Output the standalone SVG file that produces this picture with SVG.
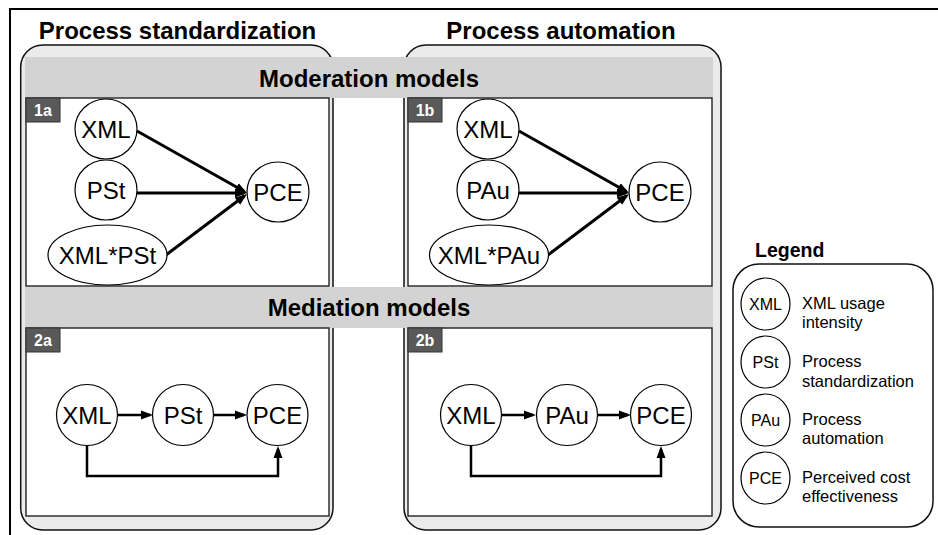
<svg xmlns="http://www.w3.org/2000/svg" width="938" height="535" viewBox="0 0 938 535">
<defs>
<style>
.frame{fill:none;stroke:#000;stroke-width:2}
.panel{fill:#ebebeb;stroke:#111;stroke-width:1.5}
.band{fill:#d3d3d3}
.box{fill:#fff;stroke:#222;stroke-width:1.4}
.lbl{fill:#595959;stroke:#333;stroke-width:1}
.lblt{font-family:"Liberation Sans",Arial,sans-serif;font-weight:bold;font-size:16px;fill:#fff;text-anchor:middle}
.title{font-family:"Liberation Sans",Arial,sans-serif;font-weight:bold;font-size:24px;fill:#000;text-anchor:middle}
.node{fill:#fff;stroke:#000;stroke-width:1.2}
.nt{font-family:"Liberation Sans",Arial,sans-serif;font-size:24px;fill:#000;text-anchor:middle}
.lnt{font-family:"Liberation Sans",Arial,sans-serif;font-size:16px;fill:#000;text-anchor:middle}
.desc{font-family:"Liberation Sans",Arial,sans-serif;font-size:16.5px;fill:#000}
.c1{fill:none;stroke:#000;stroke-width:3;marker-end:url(#ah)}
.c2{fill:none;stroke:#000;stroke-width:2.5;marker-end:url(#ah)}
</style>
<marker id="ah" markerUnits="userSpaceOnUse" markerWidth="13" markerHeight="10" refX="9" refY="5" orient="auto">
<path d="M0,0.5 L12,5 L0,9.5 z" fill="#000"/>
</marker>
</defs>

<g id="frame">
<path class="frame" d="M10,540 V9 H945"/>
</g>

<g id="panel-standardization">
<rect class="panel" x="20.7" y="45" width="312.3" height="485" rx="22" ry="22"/>
<text class="title" x="177.5" y="39">Process standardization</text>
</g>
<g id="panel-automation">
<rect class="panel" x="404" y="45" width="317" height="485" rx="22" ry="22"/>
<text class="title" x="561" y="39">Process automation</text>
</g>

<g id="band-moderation">
<rect class="band" x="25" y="57" width="688" height="41"/>
<text class="title" x="369" y="87">Moderation models</text>
</g>
<g id="band-mediation">
<rect class="band" x="25" y="287" width="688" height="41"/>
<text class="title" x="369" y="316">Mediation models</text>
</g>

<g id="box-1a">
<rect class="box" x="26" y="98" width="303" height="188"/>
<rect class="lbl" x="26" y="98" width="34" height="24"/>
<text class="lblt" x="43" y="116">1a</text>
</g>
<g id="box-1b">
<rect class="box" x="408" y="98" width="304" height="188"/>
<rect class="lbl" x="408" y="98" width="34" height="24"/>
<text class="lblt" x="425" y="116">1b</text>
</g>
<g id="box-2a">
<rect class="box" x="26" y="328" width="303" height="188"/>
<rect class="lbl" x="26" y="328" width="34" height="24"/>
<text class="lblt" x="43" y="346">2a</text>
</g>
<g id="box-2b">
<rect class="box" x="408" y="328" width="304" height="188"/>
<rect class="lbl" x="408" y="328" width="34" height="24"/>
<text class="lblt" x="425" y="346">2b</text>
</g>

<g id="connectors">
<line class="c1" x1="137" y1="131" x2="244.4" y2="191.5"/>
<line class="c1" x1="137" y1="193" x2="244" y2="193"/>
<line class="c1" x1="166" y1="255" x2="244.6" y2="195.8"/>
<line class="c1" x1="519" y1="131" x2="626.4" y2="191.5"/>
<line class="c1" x1="519" y1="193" x2="626" y2="193"/>
<line class="c1" x1="548" y1="255" x2="626.6" y2="195.8"/>
<line class="c2" x1="117" y1="415" x2="150" y2="415"/>
<line class="c2" x1="213" y1="415" x2="244" y2="415"/>
<path class="c2" d="M87,445 V476 H278 V449"/>
<line class="c2" x1="502" y1="415" x2="533" y2="415"/>
<line class="c2" x1="598" y1="415" x2="628" y2="415"/>
<path class="c2" d="M471,445 V476 H661 V449"/>
</g>

<g id="n1a-xml"><ellipse class="node" cx="106" cy="129" rx="31" ry="30"/><text class="nt" x="106" y="138">XML</text></g>
<g id="n1a-pst"><ellipse class="node" cx="106" cy="190" rx="31" ry="30"/><text class="nt" x="106" y="199">PSt</text></g>
<g id="n1a-int"><ellipse class="node" cx="107.5" cy="255" rx="59.5" ry="30"/><text class="nt" x="107.5" y="264">XML*PSt</text></g>
<g id="n1a-pce"><ellipse class="node" cx="278" cy="192" rx="31" ry="30"/><text class="nt" x="278" y="201">PCE</text></g>

<g id="n1b-xml"><ellipse class="node" cx="488" cy="129" rx="31" ry="30"/><text class="nt" x="488" y="138">XML</text></g>
<g id="n1b-pau"><ellipse class="node" cx="488" cy="190" rx="31" ry="30"/><text class="nt" x="488" y="199">PAu</text></g>
<g id="n1b-int"><ellipse class="node" cx="489" cy="255" rx="59.5" ry="30"/><text class="nt" x="489" y="264">XML*PAu</text></g>
<g id="n1b-pce"><ellipse class="node" cx="660" cy="192" rx="31" ry="30"/><text class="nt" x="660" y="201">PCE</text></g>

<g id="n2a-xml"><ellipse class="node" cx="87" cy="415" rx="30.5" ry="30.5"/><text class="nt" x="87" y="424">XML</text></g>
<g id="n2a-pst"><ellipse class="node" cx="183" cy="415" rx="30.5" ry="30.5"/><text class="nt" x="183" y="424">PSt</text></g>
<g id="n2a-pce"><ellipse class="node" cx="277.5" cy="415" rx="30.5" ry="30.5"/><text class="nt" x="277.5" y="424">PCE</text></g>

<g id="n2b-xml"><ellipse class="node" cx="471" cy="415" rx="30.5" ry="30.5"/><text class="nt" x="471" y="424">XML</text></g>
<g id="n2b-pau"><ellipse class="node" cx="567" cy="415" rx="30.5" ry="30.5"/><text class="nt" x="567" y="424">PAu</text></g>
<g id="n2b-pce"><ellipse class="node" cx="661" cy="415" rx="30.5" ry="30.5"/><text class="nt" x="661" y="424">PCE</text></g>

<g id="legend">
<text class="title" x="755" y="257" style="text-anchor:start;font-size:19.5px">Legend</text>
<rect x="733" y="264" width="200" height="263" rx="26" ry="26" fill="#fff" stroke="#111" stroke-width="1.5"/>
<g id="leg-xml"><ellipse class="node" cx="765.5" cy="304" rx="24.5" ry="26"/><text class="lnt" x="765.5" y="310">XML</text>
<text class="desc" x="802" y="309">XML usage</text><text class="desc" x="802" y="328">intensity</text></g>
<g id="leg-pst"><ellipse class="node" cx="765.5" cy="362" rx="24.5" ry="26"/><text class="lnt" x="765.5" y="368">PSt</text>
<text class="desc" x="802" y="367">Process</text><text class="desc" x="802" y="387">standardization</text></g>
<g id="leg-pau"><ellipse class="node" cx="765.5" cy="420" rx="24.5" ry="26"/><text class="lnt" x="765.5" y="426">PAu</text>
<text class="desc" x="802" y="425">Process</text><text class="desc" x="802" y="444">automation</text></g>
<g id="leg-pce"><ellipse class="node" cx="765.5" cy="478" rx="24.5" ry="26"/><text class="lnt" x="765.5" y="484">PCE</text>
<text class="desc" x="802" y="483" fill="#333">Perceived cost</text><text class="desc" x="802" y="502" fill="#333">effectiveness</text></g>
</g>
</svg>
